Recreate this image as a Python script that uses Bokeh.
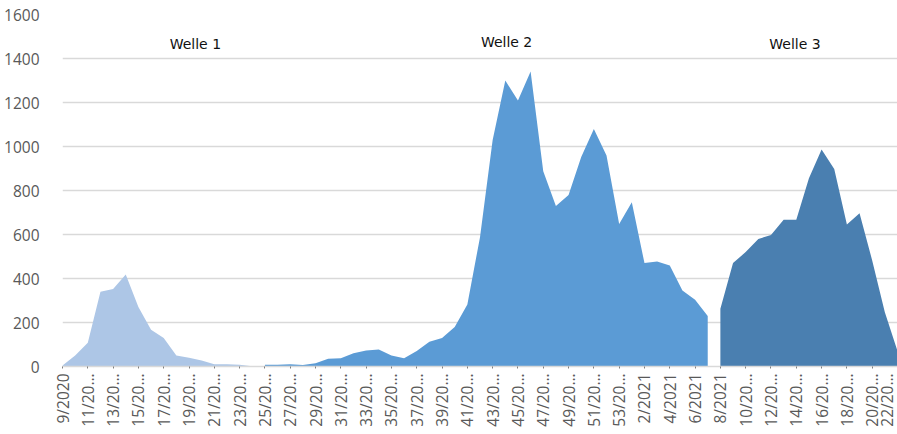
import math
from bokeh.plotting import figure
from bokeh.models import Range1d, FixedTicker, Label
from bokeh.embed import file_html
from bokeh.resources import INLINE

# Calendar weeks: 2020 week 9..53, 2021 week 1..22
weeks = [f"{w}/2020" for w in range(9, 54)] + [f"{w}/2021" for w in range(1, 23)]

# Tick labels as displayed (truncated by the original chart)
tick_labels = ["9/2020", "11/20…", "13/20…", "15/20…", "17/20…", "19/20…", "21/20…",
               "23/20…", "25/20…", "27/20…", "29/20…", "31/20…", "33/20…", "35/20…",
               "37/20…", "39/20…", "41/20…", "43/20…", "45/20…", "47/20…", "49/20…",
               "51/20…", "53/20…", "2/2021", "4/2021", "6/2021", "8/2021", "10/20…",
               "12/20…", "14/20…", "16/20…", "18/20…", "20/20…", "22/20…"]

# Welle 1: week 9/2020 .. 24/2020
welle1 = [5, 50, 108, 340, 352, 418, 270, 167, 130, 50, 40, 27, 10, 10, 8, 1]
# Welle 2: week 25/2020 .. 7/2021
welle2 = [8, 8, 10, 7, 15, 35, 37, 60, 73, 77, 50, 38, 70, 112, 130, 180, 282,
          588, 1030, 1300, 1209, 1341, 888, 729, 780, 952, 1080, 959, 648, 747,
          470, 477, 459, 345, 303, 229]
# Welle 3: week 8/2021 .. 22/2021
welle3 = [262, 471, 520, 580, 598, 667, 667, 856, 986, 898, 645, 697, 482, 247, 70]

wave_names = ["Welle 1", "Welle 2", "Welle 3"]
colors = ["#ADC6E6", "#5B9BD5", "#4A7FB0"]

p = figure(width=897, height=434, output_backend="svg", toolbar_location=None,
           x_range=Range1d(0, len(weeks) - 1), y_range=Range1d(0, 1600),
           min_border_left=62, min_border_right=0, min_border_top=14,
           min_border_bottom=68)
p.outline_line_color = None
p.background_fill_color = "white"
p.border_fill_color = "white"

start = 0
for vals, col in zip([welle1, welle2, welle3], colors):
    xs = list(range(start, start + len(vals)))
    p.varea(x=xs, y1=[0] * len(vals), y2=vals, fill_color=col, fill_alpha=1.0)
    start += len(vals)

# Axes
p.xaxis.ticker = FixedTicker(ticks=list(range(0, len(weeks), 2)))
p.xaxis.major_label_overrides = {i * 2: lab for i, lab in enumerate(tick_labels)}
p.xaxis.major_label_orientation = math.pi / 2
p.xaxis.major_label_text_font = "Open Sans"
p.xaxis.major_label_text_font_size = "15.5px"
p.xaxis.major_label_text_color = "#595959"
p.xaxis.axis_line_color = "#D9D9D9"
p.xaxis.axis_line_width = 1.5
p.xaxis.major_tick_line_color = "#808080"
p.xaxis.major_tick_in = 0
p.xaxis.major_tick_out = 2
p.xaxis.minor_tick_line_color = None
p.xaxis.major_label_standoff = 5

p.yaxis.ticker = FixedTicker(ticks=list(range(0, 1601, 200)))
p.yaxis.major_label_text_font = "Open Sans"
p.yaxis.major_label_text_font_size = "15.5px"
p.yaxis.major_label_text_color = "#595959"
p.yaxis.axis_line_color = None
p.yaxis.major_tick_line_color = None
p.yaxis.minor_tick_line_color = None
p.yaxis.major_label_standoff = 17

p.xgrid.grid_line_color = None
p.ygrid.grid_line_color = "#D9D9D9"
p.ygrid.grid_line_width = 1.3

label_pos = [(10.5, 1468), (35.1, 1473), (57.9, 1464)]
for name, (lx, ly) in zip(wave_names, label_pos):
    p.add_layout(Label(x=lx, y=ly, text=name, text_font="DejaVu Sans",
                       text_font_size="14px", text_color="#111111",
                       text_align="center", text_baseline="middle"))

open("out.html", "w").write(file_html(p, INLINE))
